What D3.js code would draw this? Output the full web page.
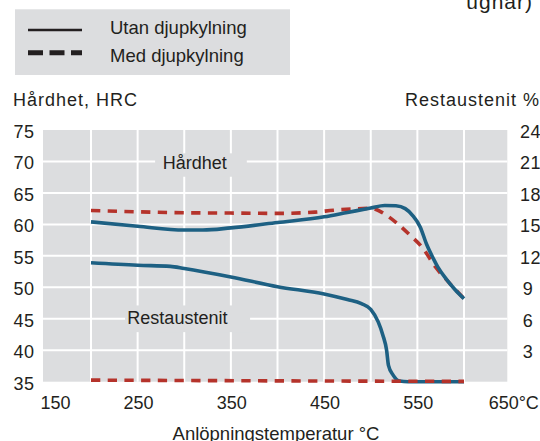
<!DOCTYPE html>
<html>
<head>
<meta charset="utf-8">
<script src="https://cdn.jsdelivr.net/npm/d3@7"></script>
<style>
  body { margin: 0; background: #fff; }
  text { font-family: "Liberation Sans", Arial, Helvetica, sans-serif; fill: #231f20; }
</style>
</head>
<body>
<div class="chart"></div>
<script>
// Data
//= ================================
// temperature (°C) for each series
var hardTempUtan = [200, 250, 300, 320, 350, 400, 450, 475, 500, 515, 527, 537, 545, 553, 560, 567, 572, 581, 590, 600];
var hardUtan = [60.4, 59.7, 59.1, 59.1, 59.45, 60.3, 61.2, 61.9, 62.6, 63.0, 62.95, 62.5, 61.4, 59.6, 56.8, 54.6, 53.2, 51.3, 49.7, 48.2];

var hardTempMed = [200, 250, 300, 350, 400, 440, 460, 480, 500, 505, 512, 528, 542, 556, 569, 583, 600];
var hardMed = [62.2, 62.0, 61.85, 61.8, 61.75, 61.95, 62.25, 62.45, 62.55, 62.4, 61.9, 60.2, 58.3, 56.2, 53.3, 50.9, 48.2];

var restTempUtan = [200, 250, 285, 300, 350, 400, 450, 475, 490, 500, 508, 513, 517, 519, 524, 531, 540, 600];
var restUtan = [11.34, 11.1, 11.0, 10.8, 9.99, 9.06, 8.37, 7.83, 7.44, 6.9, 5.7, 4.44, 3.0, 1.56, 0.63, 0.06, 0, 0];

var restTempMed = [200, 400, 600];
var restMed = [0.15, 0.08, 0.03];

var xTicks = [150, 250, 350, 450, 550, 650];
var xGrid = [200, 250, 300, 350, 400, 450, 500, 550, 600];
var hrcTicks = [35, 40, 45, 50, 55, 60, 65, 70, 75];
var restTicks = [3, 6, 9, 12, 15, 18, 21, 24];

var legendLabels = ["Utan djupkylning", "Med djupkylning"];

var blue = "#1d6083";
var red = "#b5332b";
var plotBg = "#dcdddf";

var svgWidth = 540;
var svgHeight = 441;

var svg = d3
  .select(".chart")
  .append("svg")
  .attr("width", svgWidth)
  .attr("height", svgHeight);

// scales
var xScale = d3.scaleLinear().domain([200, 600]).range([91, 464]);
var yLeft = d3.scaleLinear().domain([35, 75]).range([381.7, 130]);
var yRight = d3.scaleLinear().domain([0, 24]).range([381.7, 130]);

var plotLeft = 43;
var plotRight = 507.3;

// plot background
svg.append("rect")
  .attr("x", plotLeft)
  .attr("y", yLeft(75))
  .attr("width", plotRight - plotLeft)
  .attr("height", yLeft(35) - yLeft(75))
  .attr("fill", plotBg);

// grid lines
svg.append("g")
  .selectAll("line")
  .data(hrcTicks.filter(function(d){ return d > 35 && d < 75; }))
  .enter()
  .append("line")
  .attr("x1", plotLeft)
  .attr("x2", plotRight)
  .attr("y1", function(d){ return yLeft(d); })
  .attr("y2", function(d){ return yLeft(d); })
  .attr("stroke", "#fff")
  .attr("stroke-width", 2);

svg.append("g")
  .selectAll("line")
  .data(xGrid)
  .enter()
  .append("line")
  .attr("x1", function(d){ return xScale(d); })
  .attr("x2", function(d){ return xScale(d); })
  .attr("y1", yLeft(75))
  .attr("y2", yLeft(35))
  .attr("stroke", "#fff")
  .attr("stroke-width", 2);

// labels inside the plot, with a patch that hides the grid behind them
function plotLabel(txt, x, y, padL, w, top, h) {
  svg.append("rect")
    .attr("x", x - padL)
    .attr("y", y - top)
    .attr("width", w)
    .attr("height", h)
    .attr("fill", plotBg);
  svg.append("text")
    .attr("x", x)
    .attr("y", y)
    .attr("font-size", "18px")
    .text(txt);
}
plotLabel("Hårdhet", xScale(277), yLeft(68.75), 7.7, 91.7, 16, 23.4);
plotLabel("Restaustenit", xScale(239), yLeft(44.1), 2.3, 125, 19, 26.7);

// lines
function series(temps, vals, yScale) {
  return temps.map(function(t, i){ return [xScale(t), yScale(vals[i])]; });
}
var line = d3.line().curve(d3.curveMonotoneX);

svg.append("path")
  .attr("d", line(series(restTempUtan, restUtan, yRight)))
  .attr("fill", "none")
  .attr("stroke", blue)
  .attr("stroke-width", 3.6);

svg.append("path")
  .attr("d", line(series(restTempMed, restMed, yRight)))
  .attr("fill", "none")
  .attr("stroke", red)
  .attr("stroke-width", 3.6)
  .attr("stroke-dasharray", "9.3,7.4");

svg.append("path")
  .attr("d", line(series(hardTempMed, hardMed, yLeft)))
  .attr("fill", "none")
  .attr("stroke", red)
  .attr("stroke-width", 3.6)
  .attr("stroke-dasharray", "9.3,7.4");

svg.append("path")
  .attr("d", line(series(hardTempUtan, hardUtan, yLeft)))
  .attr("fill", "none")
  .attr("stroke", blue)
  .attr("stroke-width", 3.6);

// left axis labels
svg.append("g")
  .selectAll("text")
  .data(hrcTicks)
  .enter()
  .append("text")
  .attr("x", 34.5)
  .attr("y", function(d){ return yLeft(d) + 8; })
  .attr("text-anchor", "end")
  .attr("font-size", "18px")
  .attr("letter-spacing", "0.5px")
  .text(function(d){ return d; });

// right axis labels (cut by the right edge, like the original)
svg.append("g")
  .selectAll("text")
  .data(restTicks)
  .enter()
  .append("text")
  .attr("x", function(d){ return d < 10 ? 522.7 : 520; })
  .attr("y", function(d){ return yRight(d) + 8; })
  .attr("font-size", "18px")
  .attr("letter-spacing", "0.5px")
  .text(function(d){ return d; });

// x axis labels (the edge ones are pulled inwards)
svg.append("g")
  .selectAll("text")
  .data(xTicks)
  .enter()
  .append("text")
  .attr("x", function(d){
    if (d == 150) return xScale(150) - 4;
    if (d == 650) return xScale(650) - 22;
    return xScale(d) + 1;
  })
  .attr("y", 409.3)
  .attr("text-anchor", function(d){ return (d == 150 || d == 650) ? "start" : "middle"; })
  .attr("font-size", "18px")
  .text(function(d){ return d == 650 ? d + "°C" : d; });

svg.append("text")
  .attr("x", 276)
  .attr("y", 440)
  .attr("text-anchor", "middle")
  .attr("font-size", "18.5px")
  .text("Anlöpningstemperatur °C");

// axis titles
svg.append("text")
  .attr("x", 13)
  .attr("y", 106)
  .attr("font-size", "18px")
  .attr("letter-spacing", "1px")
  .text("Hårdhet, HRC");

svg.append("text")
  .attr("x", 405)
  .attr("y", 106)
  .attr("font-size", "18px")
  .attr("letter-spacing", "1px")
  .text("Restaustenit %");

// cut off text from above
svg.append("text")
  .attr("x", 533)
  .attr("y", 9)
  .attr("text-anchor", "end")
  .attr("font-size", "21px")
  .attr("letter-spacing", "1px")
  .text("ugnar)");

// legend
svg.append("rect")
  .attr("x", 15)
  .attr("y", 9.3)
  .attr("width", 275)
  .attr("height", 65.7)
  .attr("fill", plotBg);

svg.append("line")
  .attr("x1", 28).attr("x2", 82)
  .attr("y1", 30).attr("y2", 30)
  .attr("stroke", "#231f20")
  .attr("stroke-width", 2.4);

svg.append("line")
  .attr("x1", 28).attr("x2", 82)
  .attr("y1", 52.7).attr("y2", 52.7)
  .attr("stroke", "#231f20")
  .attr("stroke-width", 5)
  .attr("stroke-dasharray", "15,6.5");

svg.append("g")
  .selectAll("text")
  .data(legendLabels)
  .enter()
  .append("text")
  .attr("x", 110)
  .attr("y", function(d, i){ return 34 + i * 27.5; })
  .attr("font-size", "18.5px")
  .text(function(d){ return d; });
</script>
</body>
</html>
